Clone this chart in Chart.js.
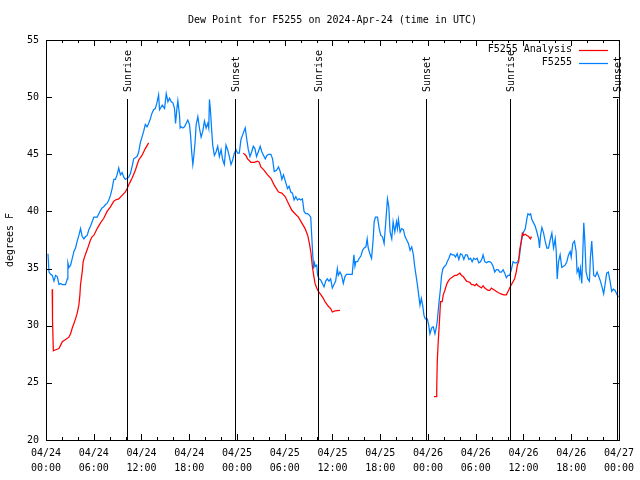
<!DOCTYPE html>
<html>
<head>
<meta charset="utf-8">
<script src="https://cdn.jsdelivr.net/npm/chart.js@4/dist/chart.umd.min.js"></script>
<style>
  body { margin: 0; background: #fff; }
  #wrap { width: 640px; height: 480px; }
</style>
</head>
<body>
<div id="wrap"><canvas id="dew" width="640" height="480"></canvas></div>
<script>
// hours since 2024-04-24 00:00 UTC
const obsHours = [0.25,0.38,0.58,0.79,1.0,1.21,1.42,1.63,1.84,2.05,2.46,2.67,2.75,2.88,3.09,3.3,3.51,3.71,3.92,4.13,4.34,4.55,4.76,4.97,5.18,5.38,5.59,5.8,6.01,6.43,6.64,6.85,7.05,7.26,7.47,7.68,7.89,8.1,8.31,8.52,8.72,8.93,9.14,9.35,9.56,9.77,9.98,10.19,10.39,10.6,10.81,11.02,11.44,11.65,11.85,12.06,12.27,12.48,12.69,12.9,13.11,13.32,13.52,13.73,13.94,14.15,
  14.27,14.61,14.9,15.11,15.32,15.53,15.74,15.95,16.15,16.28,16.45,16.57,16.78,16.86,16.99,17.2,17.4,17.61,17.82,18.03,18.16,18.32,18.45,18.57,18.74,18.87,19.08,19.28,19.49,19.7,19.91,20.12,20.33,20.45,20.54,20.66,20.83,20.95,21.16,21.37,21.58,21.79,22.0,22.21,22.41,22.62,22.83,23.04,23.25,23.46,23.67,23.88,24.08,24.29,24.5,24.71,24.92,25.04,25.21,25.42,25.63,25.84,26.05,26.25,26.46,26.67,26.92,27.13,27.34,27.55,27.76,27.97,28.26,28.47,28.68,
  28.97,29.22,29.43,29.64,29.84,30.14,30.35,30.55,30.76,30.97,31.18,31.39,31.6,31.81,32.02,32.22,32.43,32.64,32.85,33.06,33.27,33.39,33.52,33.64,33.73,33.85,34.02,34.14,34.31,34.52,34.73,34.94,35.15,35.35,35.56,35.77,35.98,36.19,36.4,36.61,36.73,36.94,37.15,37.36,37.57,37.77,38.19,38.48,38.69,38.82,38.94,39.15,39.36,39.57,39.78,39.99,40.2,40.36,40.49,40.7,40.91,41.11,41.24,41.41,41.66,41.87,42.07,42.28,42.49,42.7,42.91,43.08,43.24,
  43.45,43.62,43.83,44.04,44.16,44.29,44.5,44.71,44.91,45.12,45.33,45.54,45.75,45.96,46.17,46.33,46.5,46.67,46.83,47.0,47.17,47.33,47.5,47.67,47.92,48.08,48.25,48.46,48.67,48.88,49.04,49.17,49.38,49.58,49.71,49.88,50.09,50.25,50.42,50.63,50.84,51.05,51.26,51.46,51.67,51.88,52.09,52.3,52.51,52.72,52.93,53.14,53.35,53.55,53.76,53.97,54.18,54.39,54.6,54.81,54.93,55.14,55.35,55.56,55.77,55.97,56.18,56.39,56.6,56.81,57.02,57.23,57.44,57.65,57.85,58.06,
  58.27,58.48,58.69,58.89,59.1,59.31,59.52,59.73,59.86,60.02,60.23,60.44,60.56,60.77,60.9,61.06,61.27,61.48,61.69,61.9,62.02,62.15,62.32,62.53,62.73,62.94,63.15,63.36,63.57,63.78,63.99,64.11,64.24,64.41,64.61,64.82,65.03,65.24,65.45,65.66,65.87,66.0,66.2,66.41,66.62,66.74,66.91,67.03,67.16,67.33,67.45,67.58,67.7,67.87,68.08,68.29,68.41,68.58,68.71,68.83,69.04,69.25,69.46,69.67,69.87,70.08,70.25,70.46,70.67,70.88,71.09,71.3,71.5,71.71,71.92];
const obsDew = [36.3,34.7,34.5,34.4,33.9,34.4,34.3,33.6,33.7,33.6,33.6,34.1,35.5,35.1,35.3,35.9,36.5,36.8,37.4,37.9,38.5,37.8,37.6,37.8,37.9,38.4,38.7,39.1,39.5,39.5,39.8,40.1,40.3,40.4,40.6,40.7,41.0,41.4,42.0,42.8,42.8,43.2,43.8,43.2,43.4,43.0,42.8,42.9,43.0,43.3,43.9,44.6,44.8,45.2,46.0,46.5,47.0,47.6,47.4,47.7,48.1,48.6,48.9,49.0,49.5,50.2,
  48.9,49.3,49.0,50.3,49.6,49.9,49.6,49.5,49.0,47.7,49.0,49.7,48.4,47.3,47.4,47.3,47.4,47.7,48.0,47.6,46.7,45.1,44.1,44.8,46.1,47.6,48.3,47.3,46.5,47.0,47.9,47.3,47.7,47.3,49.8,48.9,47.0,45.8,44.9,45.2,45.7,44.8,45.4,44.5,44.1,45.8,45.4,44.8,44.1,44.5,45.1,45.4,45.1,45.1,46.3,46.7,47.1,47.3,46.4,45.4,44.8,45.2,45.7,45.5,44.8,45.2,45.7,45.2,44.9,44.6,44.9,45.0,45.0,44.6,43.5,
  43.6,43.9,43.5,42.8,43.2,42.5,42.0,42.2,41.7,41.6,41.0,41.3,41.0,41.1,41.0,41.1,40.0,39.8,39.8,39.7,39.5,37.9,36.2,35.0,35.5,35.2,35.3,34.4,34.1,34.0,33.7,33.4,33.9,34.1,33.9,34.1,33.3,33.6,33.9,35.0,34.4,34.7,34.4,33.7,34.3,34.5,34.5,34.5,36.2,35.2,35.6,35.6,35.9,36.1,36.6,36.8,36.9,37.6,36.8,36.3,35.9,37.5,39.1,39.5,39.5,38.5,37.9,37.8,37.2,39.1,41.1,40.4,38.2,
  37.6,39.1,38.2,39.1,38.5,39.3,38.2,38.5,38.4,37.8,37.5,37.2,36.6,36.9,36.2,35.2,34.4,33.6,32.7,31.8,32.4,31.8,30.9,30.6,30.6,30.1,29.3,29.8,29.9,29.3,29.8,30.4,32.0,33.3,34.4,35.0,35.2,35.3,35.6,35.9,36.3,36.2,36.2,36.0,36.3,35.8,36.3,36.2,35.8,36.2,36.2,35.8,35.9,35.6,35.9,35.8,35.9,35.5,35.6,35.9,36.2,35.6,35.5,35.6,35.6,35.5,35.2,34.7,34.9,34.9,34.7,34.7,34.9,34.6,34.2,34.4,
  34.4,34.9,35.6,35.5,35.5,35.6,36.2,37.4,37.8,38.2,38.5,39.4,39.8,39.7,39.8,39.3,39.0,38.7,38.2,37.6,36.8,37.9,38.6,38.1,37.4,36.8,36.8,37.5,38.1,36.8,37.6,36.6,34.1,35.6,36.2,35.1,35.2,35.3,35.6,36.2,36.5,36.0,37.2,37.4,36.5,34.7,35.0,34.3,35.0,33.7,36.2,39.0,37.6,34.7,34.1,33.9,35.9,37.4,35.9,34.4,34.3,34.7,34.3,33.9,33.4,32.8,33.6,34.6,34.7,33.9,33.0,33.2,33.1,32.8,32.5];

// analysis runs, null = no analysis
const anaHours = [0.78,0.82,0.92,1.21,1.63,1.84,2.05,2.46,2.88,3.09,3.3,3.51,3.71,3.92,4.13,4.26,4.34,4.55,4.67,4.84,5.09,5.3,5.59,5.8,6.01,6.43,6.85,7.26,7.68,8.1,8.52,8.72,9.14,9.56,9.98,10.19,10.52,10.81,11.23,11.65,12.06,12.48,12.9,
  18.0,
  24.79,25.12,25.33,25.75,26.17,26.59,26.8,27.0,27.42,27.84,28.26,28.68,29.22,29.63,30.05,30.47,30.89,31.3,31.72,32.14,32.56,32.89,33.1,33.31,33.47,33.64,33.81,34.02,34.23,34.56,34.85,35.06,35.48,35.77,35.98,36.31,36.94,
  42.0,
  48.75,49.04,49.1,49.17,49.29,49.46,49.58,49.79,49.92,50.13,50.34,50.55,50.76,50.96,51.17,51.38,51.59,51.8,52.01,52.22,52.43,52.64,52.85,53.05,53.26,53.47,53.68,53.89,54.1,54.3,54.51,54.72,54.93,55.14,55.35,55.56,55.77,55.97,56.18,56.39,56.6,56.81,57.1,57.52,57.85,58.06,58.27,58.48,58.69,58.89,59.1,59.23,59.4,59.52,59.73,59.86,60.02,60.23,60.44,60.65,60.86,61.02];
const anaDew = [33.2,30.5,27.8,27.9,28.0,28.3,28.6,28.8,29.0,29.3,29.8,30.2,30.6,31.1,31.8,32.7,33.6,34.7,35.6,36.0,36.5,36.9,37.5,37.8,37.9,38.5,39.0,39.4,40.0,40.4,40.9,41.0,41.1,41.4,41.7,42.0,42.5,42.9,43.6,44.5,44.9,45.5,46.0,
  null,
  45.1,44.9,44.6,44.3,44.3,44.4,44.3,43.9,43.6,43.2,42.9,42.3,41.7,41.6,41.3,40.7,40.1,39.8,39.5,39.0,38.5,37.9,37.2,36.3,35.2,34.4,33.7,33.3,33.0,32.7,32.4,32.1,31.7,31.5,31.2,31.3,31.35,
  null,
  23.8,23.8,24.5,26.9,28.6,30.6,32.1,32.1,32.7,33.1,33.6,33.9,34.1,34.2,34.3,34.4,34.4,34.5,34.6,34.4,34.3,34.1,33.9,33.85,33.8,33.6,33.6,33.5,33.65,33.5,33.4,33.3,33.5,33.3,33.2,33.1,33.1,33.3,33.2,33.1,33.0,32.9,32.8,32.7,32.7,33.0,33.3,33.6,33.85,34.1,34.7,35.3,35.6,36.6,37.4,38.1,37.9,38.0,37.9,37.8,37.6,37.8];

const sunHours = [10.18, 23.72, 34.22, 47.75, 58.27, 71.79];
const sunLabels = ['Sunrise', 'Sunset', 'Sunrise', 'Sunset', 'Sunrise', 'Sunset'];

const FONT = '"DejaVu Sans Mono", "Liberation Mono", monospace';
const RED = '#ff0000';
const BLUE = '#0080ff';

function pairs(xs, ys) {
    return xs.map((x, i) => ({ x: x, y: ys[i] }));
}

function tickLabel(v) {
    if (v % 6 !== 0) return '';
    const day = 24 + Math.floor(v / 24);
    const hr = String(v % 24).padStart(2, '0');
    return ['04/' + day, hr + ':00'];
}

// gnuplot look: frame, inward ticks, sun markers, title, legend
const gnuFrame = {
    id: 'gnuFrame',
    afterDatasetsDraw(chart) {
        const ctx = chart.ctx;
        const a = chart.chartArea;
        const xs = chart.scales.x, ys = chart.scales.y;
        ctx.save();
        ctx.strokeStyle = '#000';
        ctx.lineWidth = 1;
        ctx.beginPath();

        xs.ticks.forEach(t => {
            const px = Math.round(xs.getPixelForValue(t.value)) + 0.5;
            const len = t.value % 6 === 0 ? 6 : 3;
            ctx.moveTo(px, a.bottom); ctx.lineTo(px, a.bottom - len);
            ctx.moveTo(px, a.top); ctx.lineTo(px, a.top + len);
        });
        ys.ticks.forEach(t => {
            const py = Math.round(ys.getPixelForValue(t.value)) + 0.5;
            ctx.moveTo(a.left, py); ctx.lineTo(a.left + 6, py);
            ctx.moveTo(a.right, py); ctx.lineTo(a.right - 6, py);
        });
        ctx.stroke();

        // sunrise / sunset markers
        ctx.font = '10px ' + FONT;
        ctx.fillStyle = '#000';
        sunHours.forEach((h, i) => {
            const px = Math.round(xs.getPixelForValue(h)) + 0.5;
            ctx.beginPath();
            ctx.moveTo(px, a.top + 59);
            ctx.lineTo(px, a.bottom);
            ctx.stroke();
            ctx.save();
            ctx.translate(px + 1, a.top + 52);
            ctx.rotate(-Math.PI / 2);
            ctx.textAlign = 'left';
            ctx.textBaseline = 'middle';
            ctx.fillText(sunLabels[i], 0, 0);
            ctx.restore();
        });

        ctx.strokeRect(a.left + 0.5, a.top + 0.5, a.right - a.left, a.bottom - a.top);
        ctx.restore();
    },
    afterDraw(chart) {
        const ctx = chart.ctx;
        const a = chart.chartArea;
        ctx.save();
        ctx.font = '10px ' + FONT;
        ctx.fillStyle = '#000';
        ctx.textBaseline = 'middle';

        ctx.textAlign = 'center';
        ctx.fillText('Dew Point for F5255 on 2024-Apr-24 (time in UTC)', (a.left + a.right) / 2, 20);

        ctx.save();
        ctx.translate(10, (a.top + a.bottom) / 2);
        ctx.rotate(-Math.PI / 2);
        ctx.fillText('degrees F', 0, 0);
        ctx.restore();

        // legend
        const items = [['F5255 Analysis', RED], ['F5255', BLUE]];
        items.forEach((it, i) => {
            const y = a.top + 9.5 + i * 13;
            ctx.textAlign = 'right';
            ctx.fillStyle = '#000';
            ctx.fillText(it[0], a.right - 47, y);
            ctx.strokeStyle = it[1];
            ctx.lineWidth = 1.25;
            ctx.beginPath();
            ctx.moveTo(a.right - 40, Math.round(y) + 0.5);
            ctx.lineTo(a.right - 11, Math.round(y) + 0.5);
            ctx.stroke();
        });
        ctx.restore();
    }
};

new Chart(document.getElementById('dew'), {
    type: 'line',
    data: {
        datasets: [
            { label: 'F5255 Analysis', data: pairs(anaHours, anaDew), borderColor: RED, borderWidth: 1.25, pointRadius: 0, spanGaps: false, tension: 0 },
            { label: 'F5255', data: pairs(obsHours, obsDew), borderColor: BLUE, borderWidth: 1.25, pointRadius: 0, tension: 0 }
        ]
    },
    options: {
        responsive: false,
        animation: false,
        layout: { padding: { top: 40, right: 19, left: 0, bottom: 0 } },
        plugins: { legend: { display: false }, tooltip: { enabled: false }, title: { display: false } },
        scales: {
            x: {
                type: 'linear', min: 0, max: 72,
                afterFit(s) { s.height = 40; },
                grid: { display: false, drawTicks: false },
                border: { display: false },
                ticks: {
                    stepSize: 2, autoSkip: false, maxRotation: 0, padding: 6,
                    color: '#000', font: { family: FONT, size: 10, lineHeight: 1.5 },
                    callback: tickLabel
                }
            },
            y: {
                min: 20, max: 55,
                afterFit(s) { s.width = 46; },
                grid: { display: false, drawTicks: false },
                border: { display: false },
                ticks: { stepSize: 5, padding: 7, color: '#000', font: { family: FONT, size: 10 } }
            }
        }
    },
    plugins: [gnuFrame]
});
</script>
</body>
</html>
